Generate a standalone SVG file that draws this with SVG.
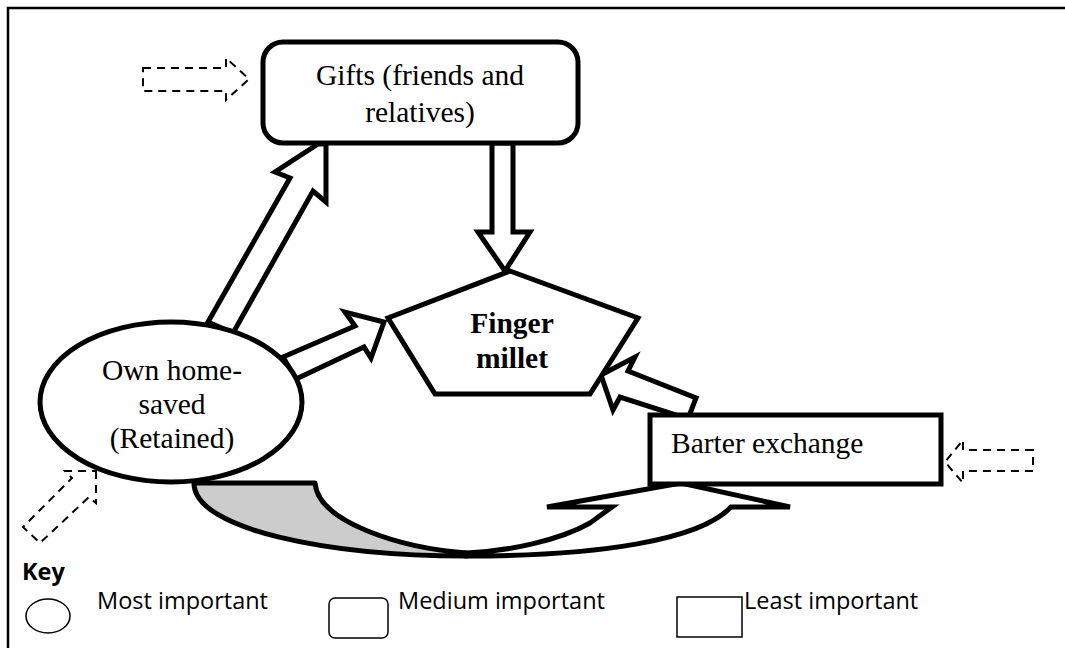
<svg xmlns="http://www.w3.org/2000/svg" width="1065" height="648" viewBox="0 0 1065 648">
  <style>
    .frame { fill: none; stroke: #000; stroke-width: 2.5; }
    .node { fill: #fff; stroke: #000; stroke-width: 5; stroke-linejoin: miter; }
    .block { fill: #fff; stroke: #000; stroke-width: 5; stroke-linejoin: miter; }
    .shade { fill: #cccccc; stroke: #000; stroke-width: 5; stroke-linejoin: round; }
    .dash { fill: none; stroke: #000; stroke-width: 2; stroke-dasharray: 8 6; }
    .label { font-family: "Liberation Serif", "Times New Roman", serif; font-size: 29.5px; fill: #000; }
    .bold { font-weight: bold; }
    .key-shape { fill: #fff; stroke: #000; stroke-width: 1.5; }
    .key-text { font-family: "Open Sans", "Noto Sans", sans-serif; font-size: 23.5px; fill: #000; }
  </style>

  <rect class="frame" x="8" y="8" width="1075" height="660"/>

  <!-- flows between sources, drawn beneath the nodes -->
  <g id="connectors">
    <!-- curved return arrow from own seed back to barter -->
    <path class="shade" d="M194,483 L315,483 C318,522 400,548 467,553 L467,556 C330,556 194,530 194,483 Z"/>
    <path class="block" d="M467,556 C600,556 700,540 731,507 L790,507 L681,483 L547,507 L612,507 L590,523 C560,540 510,551 467,553 Z"/>

    <!-- own seed to gifts -->
    <path class="block" d="M208,322 L290,178 L275,172 L318,144 L326,144 L326,202 L313,191 L233,333 Z"/>
    <!-- own seed to finger millet -->
    <path class="block" d="M283,357 L355,326 L345,312 L384,322 L371,358 L364,347 L296,379 Z"/>
    <!-- gifts to finger millet -->
    <path class="block" d="M492,143 L513,143 L513,232 L530,232 L505,271 L478,232 L492,232 Z"/>
    <!-- barter to finger millet -->
    <path class="block" d="M601,375 L635,357 L628,371 L696,398 L688,419 L620,397 L613,410 Z"/>

    <!-- external inflows -->
    <path class="dash" d="M143,68 L226,68 L226,58 L249,79 L226,100 L226,91 L143,91 Z"/>
    <path class="dash" d="M1033,450 L963,450 L963,440 L945,462 L963,483 L963,471 L1033,471 Z"/>
    <path class="dash" d="M96,471 L96,503 L89,497 L40,543 L23,527 L72,478 L65,471 Z"/>
  </g>

  <g id="gifts">
    <rect class="node" x="263" y="42" width="315" height="101" rx="20" ry="20"/>
    <text class="label" x="420" y="85" text-anchor="middle">Gifts (friends and</text>
    <text class="label" x="420" y="122" text-anchor="middle">relatives)</text>
  </g>

  <g id="finger-millet">
    <polygon class="node" points="510,271 638,318 590,394 435,394 388,318"/>
    <text class="label bold" x="512" y="333" text-anchor="middle">Finger</text>
    <text class="label bold" x="512" y="368" text-anchor="middle">millet</text>
  </g>

  <g id="own-home-saved">
    <ellipse class="node" cx="171" cy="402" rx="131" ry="80"/>
    <text class="label" x="172" y="380" text-anchor="middle">Own home-</text>
    <text class="label" x="172" y="414" text-anchor="middle">saved</text>
    <text class="label" x="172" y="448" text-anchor="middle">(Retained)</text>
  </g>

  <g id="barter-exchange">
    <rect class="node" x="650" y="415" width="291" height="69"/>
    <text class="label" x="671" y="453">Barter exchange</text>
  </g>

  <g id="legend">
    <text class="key-text" x="22" y="580" font-weight="bold">Key</text>
    <ellipse class="key-shape" cx="48" cy="616" rx="22" ry="17"/>
    <text class="key-text" x="97" y="609">Most important</text>
    <rect class="key-shape" x="329" y="598" width="59" height="40" rx="6" ry="6"/>
    <text class="key-text" x="398" y="609">Medium important</text>
    <rect class="key-shape" x="677" y="597" width="65" height="40"/>
    <text class="key-text" x="744" y="609">Least important</text>
  </g>
</svg>
